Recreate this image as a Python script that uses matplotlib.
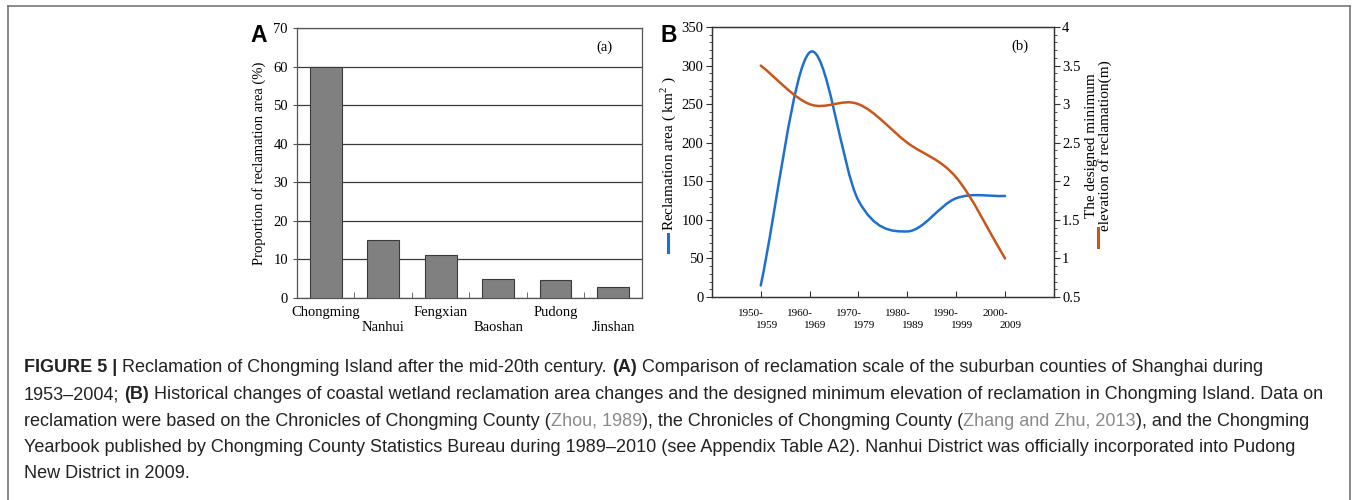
import matplotlib
matplotlib.use("Agg")
import matplotlib.pyplot as plt
import numpy as np
from matplotlib.path import Path
from matplotlib.patches import PathPatch
from matplotlib.lines import Line2D
from matplotlib.transforms import blended_transform_factory

plt.rcParams["font.family"] = ["Liberation Serif", "DejaVu Serif"]
plt.rcParams["mathtext.fontset"] = "custom"
plt.rcParams["mathtext.rm"] = "Liberation Serif"

# panel A data
counties = ["Chongming", "Nanhui", "Fengxian", "Baoshan", "Pudong", "Jinshan"]
proportion = [60, 15, 11.2, 4.9, 4.7, 2.8]

# panel B data
decades = [("1950-", "1959"), ("1960-", "1969"), ("1970-", "1979"),
           ("1980-", "1989"), ("1990-", "1999"), ("2000-", "2009")]
area = [15, 317, 125, 85, 128, 131]
elevation = [3.5, 3.0, 3.0, 2.5, 2.05, 1.0]

BLUE = "#1f6fd0"
ORANGE = "#c8561a"


def smooth_path(xs, ys):
    # catmull-rom tangents turned into cubic bezier segments
    xs = np.asarray(xs, float)
    ys = np.asarray(ys, float)
    n = len(xs)
    tx = np.empty(n)
    ty = np.empty(n)
    for i in range(n):
        a, b = max(i - 1, 0), min(i + 1, n - 1)
        k = 2.0 if 0 < i < n - 1 else 1.0
        tx[i] = (xs[b] - xs[a]) / k
        ty[i] = (ys[b] - ys[a]) / k
    verts = [(xs[0], ys[0])]
    codes = [Path.MOVETO]
    for i in range(n - 1):
        verts += [(xs[i] + tx[i] / 3, ys[i] + ty[i] / 3),
                  (xs[i + 1] - tx[i + 1] / 3, ys[i + 1] - ty[i + 1] / 3),
                  (xs[i + 1], ys[i + 1])]
        codes += [Path.CURVE4] * 3
    return Path(verts, codes)


fig = plt.figure(figsize=(13.56, 5), dpi=100)

# ---------- panel A ----------
ax1 = fig.add_axes([0.219, 0.404, 0.2544, 0.540])
pos = np.arange(len(counties))
ax1.bar(pos, proportion, width=0.55, color="#808080", edgecolor="#3a3a3a",
        linewidth=0.8, zorder=3)
ax1.set_xlim(-0.5, len(counties) - 0.5)
ax1.set_ylim(0, 70)
ax1.set_yticks(range(0, 71, 10))
ax1.yaxis.grid(True, color="#3a3a3a", linewidth=0.9, zorder=0)
ax1.set_xticks(pos)
ax1.set_xticklabels([c if i % 2 == 0 else "\n" + c for i, c in enumerate(counties)],
                    fontsize=10.5)
ax1.set_xticks(pos[:-1] + 0.5, minor=True)
ax1.tick_params(axis="x", which="major", length=0, pad=6)
ax1.tick_params(axis="x", which="minor", direction="in", length=4, color="#555555")
ax1.tick_params(axis="y", direction="out", length=3, labelsize=10.5, color="#555555")
for s in ax1.spines.values():
    s.set_color("#555555")
    s.set_linewidth(0.9)
ax1.set_ylabel("Proportion of reclamation area (%)", fontsize=10.5, labelpad=5)
ax1.text(0.89, 0.93, "(a)", transform=ax1.transAxes, fontsize=10.5,
         ha="center", va="center")
fig.text(250 / 1356, 1 - 35 / 500, "A", family="Liberation Sans",
         weight="bold", fontsize=16.5, ha="left", va="center")

# ---------- panel B ----------
ax2 = fig.add_axes([0.525, 0.406, 0.2522, 0.540])
ax3 = ax2.twinx()
xb = np.arange(len(decades))
ax2.add_patch(PathPatch(smooth_path(xb, area), fill=False, edgecolor=BLUE,
                        linewidth=1.8, capstyle="round"))
ax3.add_patch(PathPatch(smooth_path(xb, elevation), fill=False, edgecolor=ORANGE,
                        linewidth=1.8, capstyle="round"))
ax2.set_xlim(-1, len(decades))
ax2.set_ylim(0, 350)
ax3.set_ylim(0.5, 4)
ax2.set_yticks(range(0, 351, 50))
ax2.set_yticks(range(0, 351, 10), minor=True)
ax3.set_yticks(np.arange(0.5, 4.01, 0.5))
ax3.set_yticks(np.arange(0.5, 4.01, 0.1), minor=True)
ax3.set_yticklabels(["0.5", "1", "1.5", "2", "2.5", "3", "3.5", "4"])
ax2.set_xticks(xb)
ax2.set_xticklabels([])
ax2.tick_params(axis="x", direction="in", length=4, color="#333333")
ax2.tick_params(axis="y", which="major", direction="out", length=4,
                labelsize=10.5, color="#333333", pad=2)
ax2.tick_params(axis="y", which="minor", direction="out", length=2, color="#333333")
ax3.tick_params(axis="y", which="major", direction="out", length=4,
                labelsize=10.5, color="#333333", pad=2)
ax3.tick_params(axis="y", which="minor", direction="out", length=2, color="#333333")
for a in (ax2, ax3):
    for s in a.spines.values():
        s.set_color("#333333")
        s.set_linewidth(0.9)

tb = blended_transform_factory(ax2.transData, ax2.transAxes)
for x, (top, bottom) in zip(xb, decades):
    ax2.text(x - 0.2, -0.045, top, transform=tb, fontsize=8,
             ha="center", va="top")
    ax2.text(x + 0.12, -0.09, bottom, transform=tb, fontsize=8,
             ha="center", va="top")

ax2.text(-0.128, 0.53, "Reclamation area ( km$^{2}$ )", transform=ax2.transAxes,
         rotation=90, fontsize=11, ha="center", va="center")
ax3.text(1.13, 0.56, "The designed minimum\nelevation of reclamation(m)",
         transform=ax3.transAxes, rotation=90, fontsize=11, ha="center",
         va="center", linespacing=1.0)
# colour keys under the axis titles
for axk, xk, yk, col in ((ax2, -0.128, (0.165, 0.235), BLUE),
                         (ax3, 1.128, (0.185, 0.255), ORANGE)):
    axk.add_line(Line2D([xk, xk], list(yk), transform=axk.transAxes, color=col,
                        linewidth=2.2, clip_on=False))
ax2.text(0.90, 0.93, "(b)", transform=ax2.transAxes, fontsize=10.5,
         ha="center", va="center")
fig.text(661 / 1356, 1 - 35 / 500, "B", family="Liberation Sans",
         weight="bold", fontsize=16.5, ha="left", va="center")

# ---------- frame ----------
fx0, fx1, fy = 8 / 1356, 1350 / 1356, 1 - 6 / 500
for xs_, ys_ in (([fx0, fx1], [fy, fy]), ([fx0, fx0], [0, fy]), ([fx1, fx1], [0, fy])):
    fig.add_artist(Line2D(xs_, ys_, transform=fig.transFigure, color="#777777",
                          linewidth=1.2))

# ---------- caption ----------
cap = [
    [("FIGURE 5 |", "b", None), ("Reclamation of Chongming Island after the mid-20th century.", "r", None),
     ("(A)", "b", None), ("Comparison of reclamation scale of the suburban counties of Shanghai during", "r", None)],
    [("1953\u20132004;", "r", None), ("(B)", "b", None),
     ("Historical changes of coastal wetland reclamation area changes and the designed minimum elevation of reclamation in Chongming Island. Data on", "r", None)],
    [("reclamation were based on the Chronicles of Chongming County (", "r", None), ("Zhou, 1989", "r", "#8a8a8a"),
     ("), the Chronicles of Chongming County (", "r", None), ("Zhang and Zhu, 2013", "r", "#8a8a8a"),
     ("), and the Chongming", "r", None)],
    [("Yearbook published by Chongming County Statistics Bureau during 1989\u20132010 (see Appendix Table A2). Nanhui District was officially incorporated into Pudong", "r", None)],
    [("New District in 2009.", "r", None)],
]
joins = [[True, True, True], [True, True], [False, False, False, False], [], []]

renderer = fig.canvas.get_renderer()
fs = 13.0
probe = fig.text(0, 0, "a a", family="Liberation Sans", fontsize=fs)
w1 = probe.get_window_extent(renderer).width
probe.set_text("aa")
space_w = w1 - probe.get_window_extent(renderer).width
probe.remove()

y0 = 1 - 368 / 500
dy = 26.5 / 500
for li, line in enumerate(cap):
    xpix = 24
    for ri, (txt, style, col) in enumerate(line):
        t = fig.text(xpix / 1356, y0 - li * dy, txt, family="Liberation Sans",
                     fontsize=fs, weight="bold" if style == "b" else "normal",
                     color=col or "#222222", va="center", ha="left")
        xpix += t.get_window_extent(renderer).width
        if ri < len(joins[li]) and joins[li][ri]:
            xpix += space_w

fig.savefig("out.png", dpi=100)
